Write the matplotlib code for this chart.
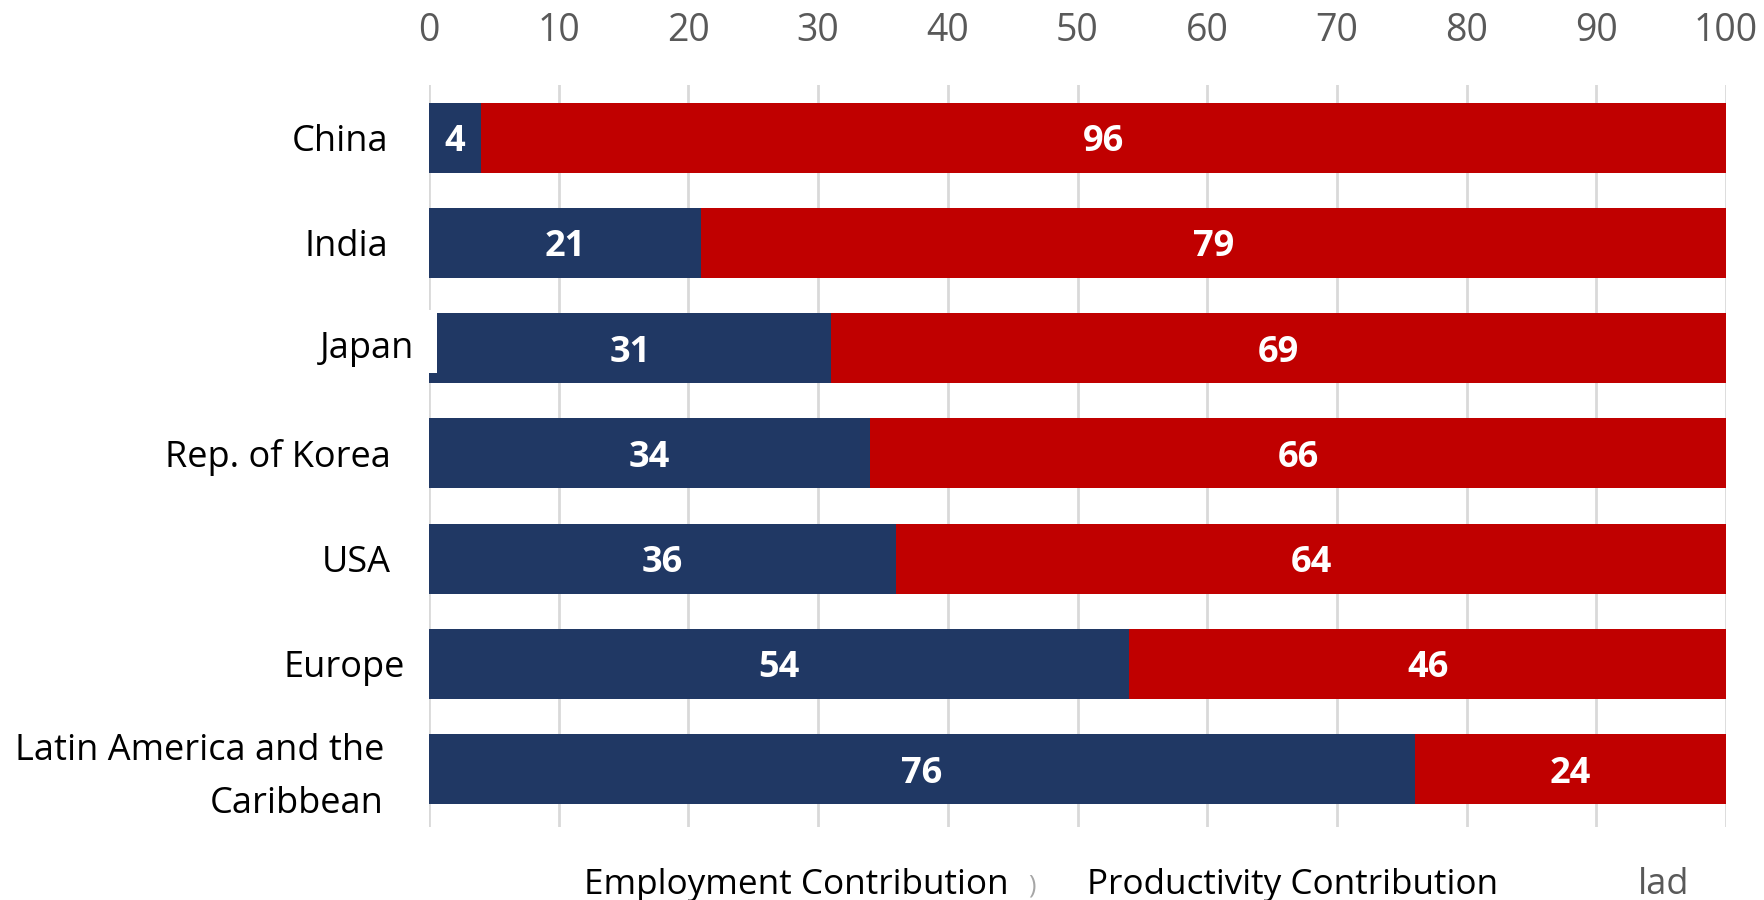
import matplotlib
matplotlib.use('Agg')
import matplotlib.pyplot as plt
from matplotlib.patches import Rectangle
from matplotlib import transforms

# Shares of growth, in percent
regions = ["China", "India", "Japan", "Rep. of Korea", "USA", "Europe",
           "Latin America and the\nCaribbean"]
employment = [4, 21, 31, 34, 36, 54, 76]
productivity = [96, 79, 69, 66, 64, 46, 24]
ticks = [0, 10, 20, 30, 40, 50, 60, 70, 80, 90, 100]

NAVY = '#203864'
RED = '#C00000'
GRID = '#D9D9D9'
TICK_GREY = '#595959'

plt.rcParams['font.family'] = ['Open Sans', 'DejaVu Sans']

W, H = 1765, 900
fig = plt.figure(figsize=(W / 100, H / 100), dpi=100)
ax = fig.add_axes([429 / W, 1 - 827 / H, (1726 - 429) / W, (827 - 85) / H])

y = list(range(len(regions)))
bar_h = 0.664
ax.barh(y, employment, height=bar_h, color=NAVY, zorder=2)
ax.barh(y, productivity, left=employment, height=bar_h, color=RED, zorder=2)

# value labels inside each segment
for i in y:
    e, p = employment[i], productivity[i]
    ax.text(e / 2, i, str(e), ha='center', va='center_baseline', color='white',
            fontsize=26, fontweight='bold', zorder=3)
    ax.text(e + p / 2, i, str(p), ha='center', va='center_baseline', color='white',
            fontsize=26, fontweight='bold', zorder=3)

ax.set_xlim(0, 100)
ax.set_ylim(6.55, -0.5)
ax.set_xticks(ticks)
ax.xaxis.tick_top()
ax.tick_params(axis='x', length=0, pad=25, labelsize=27, labelcolor=TICK_GREY)
ax.set_yticks([])
ax.grid(axis='x', color=GRID, linewidth=2, zorder=0)
for s in ax.spines.values():
    s.set_visible(False)

# white label box sitting over the Japan row
ax.add_patch(Rectangle((300 / W, 1 - 373 / H), (437 - 300) / W,
                       (373 - 310) / H, transform=fig.transFigure,
                       facecolor='white', edgecolor='none', zorder=4,
                       clip_on=False))

# category labels, right edges in figure pixels, small vertical nudges
label_right = [388, 388, 414, 391, 391, 405, 384]
label_dy = [0, 0, -0.03, 0, 0, 0, 0.08]
trans = transforms.blended_transform_factory(fig.transFigure, ax.transData)
for i, name in enumerate(regions):
    ax.text(label_right[i] / W, i + label_dy[i], name, transform=trans,
            ha='right',
            va='center_baseline' if '\n' not in name else 'center',
            fontsize=26, color='black', multialignment='right',
            linespacing=1.6, zorder=6)

# legend row
fig.text(584 / W, 1 - 881 / H, "Employment Contribution", ha='left',
         va='center_baseline', fontsize=25.3, color='black')
fig.text(1032 / W, 1 - 883 / H, ")", ha='center', va='center_baseline',
         fontsize=18, color='#A6A6A6')
fig.text(1087 / W, 1 - 881 / H, "Productivity Contribution", ha='left',
         va='center_baseline', fontsize=25.3, color='black')
fig.text(1638 / W, 1 - 881 / H, "lad", ha='left', va='center_baseline',
         fontsize=26, color=TICK_GREY)

fig.savefig('out.png', dpi=100, facecolor='white')
